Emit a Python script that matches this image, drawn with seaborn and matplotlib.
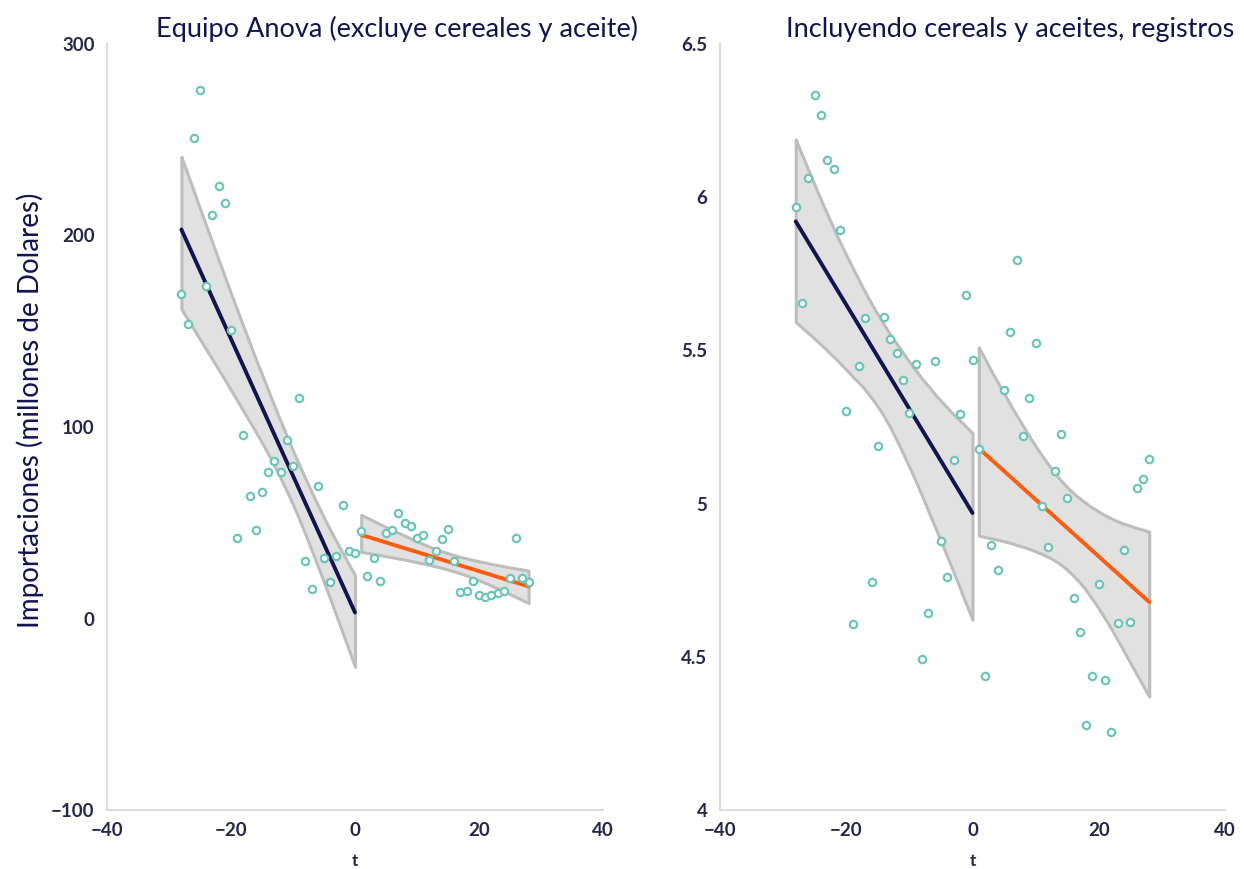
import numpy as np
import pandas as pd
import seaborn as sns
import matplotlib
matplotlib.use("Agg")
import matplotlib.pyplot as plt
from matplotlib.collections import PolyCollection

# ---- data ----
t_pre = list(range(-28, 1))
t_post = list(range(1, 29))

anova_pre = [169.5, 153.9, 251, 276, 173.7, 210.8, 225.7, 217, 150.6, 41.8,
             95.7, 63.9, 46.3, 66, 76.4, 82.2, 76.4, 93.3, 79.5, 114.9,
             29.8, 15.5, 69.3, 31.5, 19.3, 32.4, 59.4, 35, 34.1]
anova_post = [45.6, 22.1, 31.5, 19.8, 44.4, 46, 55.2, 50, 48.2, 41.8,
              43.5, 30.4, 35.1, 41.6, 46.5, 30.1, 13.9, 14.5, 19.7, 12.5,
              11.1, 12.2, 13.4, 14.6, 21, 41.8, 21, 18.8]

log_pre = [5.969, 5.655, 6.063, 6.334, 6.267, 6.121, 6.092, 5.894, 5.301, 4.607,
           5.45, 5.605, 4.743, 5.189, 5.61, 5.536, 5.49, 5.405, 5.295, 5.456,
           4.494, 4.644, 5.464, 4.879, 4.762, 5.143, 5.293, 5.68, 5.468]
log_post = [5.179, 4.437, 4.864, 4.784, 5.37, 5.559, 5.796, 5.22, 5.345, 5.524,
            4.991, 4.857, 5.108, 5.228, 5.017, 4.691, 4.58, 4.276, 4.437, 4.738,
            4.425, 4.255, 4.61, 4.85, 4.613, 5.051, 5.081, 5.144]

titles = ["Equipo Anova (excluye cereales y aceite)",
          "Incluyendo cereals y aceites, registros"]
ylabel = "Importaciones (millones de Dolares)"
xticks = [-40, -20, 0, 20, 40]
yticks_left = [-100, 0, 100, 200, 300]
yticks_right = [4, 4.5, 5, 5.5, 6, 6.5]
ytick_labels_right = ["4", "4.5", "5", "5.5", "6", "6.5"]

# ---- style ----
sns.set_theme(style="white")
plt.rcParams['font.family'] = ['Lato', 'DejaVu Sans']

NAVY = "#13134f"
ORANGE = "#ff5c0d"
TEAL = "#6cc6b6"
TXT = "#26264a"
SPINE = "#dcdcdc"

fig = plt.figure(figsize=(12.44, 8.69), dpi=100)
axL = fig.add_axes([107/1244, 59/869, 496/1244, 766/869])
axR = fig.add_axes([720/1244, 59/869, 505/1244, 766/869])


def panel(ax, pre, post, yticks, ylabels, ylim):
    df_pre = pd.DataFrame({"t": t_pre, "y": pre})
    df_post = pd.DataFrame({"t": t_post, "y": post})
    n0 = len(ax.collections)
    sns.regplot(data=df_pre, x="t", y="y", ax=ax, scatter=False, ci=95, seed=3,
                n_boot=20000, line_kws=dict(color=NAVY, lw=2.8, zorder=4))
    sns.regplot(data=df_post, x="t", y="y", ax=ax, scatter=False, ci=95, seed=3,
                n_boot=20000, line_kws=dict(color=ORANGE, lw=2.8, zorder=4))
    for c in ax.collections[n0:]:
        if isinstance(c, PolyCollection):
            c.set_facecolor("#e1e1e1")
            c.set_alpha(1.0)
            c.set_edgecolor("#bdbdbd")
            c.set_linewidth(2.2)
            c.set_zorder(2)
    df_all = pd.concat([df_pre, df_post])
    sns.scatterplot(data=df_all, x="t", y="y", ax=ax, marker="o", s=28,
                    facecolor="white", edgecolor=TEAL, linewidth=1.6, zorder=5)
    ax.set_xlim(-40, 40)
    ax.set_ylim(*ylim)
    ax.set_xticks(xticks)
    ax.set_xticklabels([str(v).replace("-", "\u2212") for v in xticks])
    ax.set_yticks(yticks)
    ax.set_yticklabels(ylabels)
    for s in ["top", "right"]:
        ax.spines[s].set_visible(False)
    for s in ["left", "bottom"]:
        ax.spines[s].set_color(SPINE)
        ax.spines[s].set_linewidth(1.5)
    ax.tick_params(axis="both", length=5, width=1.2, color=SPINE,
                   labelcolor=TXT, labelsize=13.5, pad=4)
    for lab in ax.get_xticklabels() + ax.get_yticklabels():
        lab.set_fontweight("bold")
    ax.set_xlabel("t", color=TXT, fontsize=12.5, fontweight="bold", labelpad=10)
    ax.set_ylabel("")
    ax.grid(False)


panel(axL, anova_pre, anova_post, yticks_left,
      [str(v).replace("-", "\u2212") for v in yticks_left], (-100, 300))
panel(axR, log_pre, log_post, yticks_right, ytick_labels_right, (4, 6.5))

fig.text(397/1244, 1 - 29/869, titles[0], ha="center", va="center",
         fontsize=19.5, color=NAVY)
fig.text(1010/1244, 1 - 29/869, titles[1], ha="center", va="center",
         fontsize=19.5, color=NAVY)
fig.text(30/1244, 1 - 410/869, ylabel, ha="center", va="center",
         rotation=90, fontsize=20, color=NAVY)

fig.savefig("out.png", dpi=100, facecolor="white")
